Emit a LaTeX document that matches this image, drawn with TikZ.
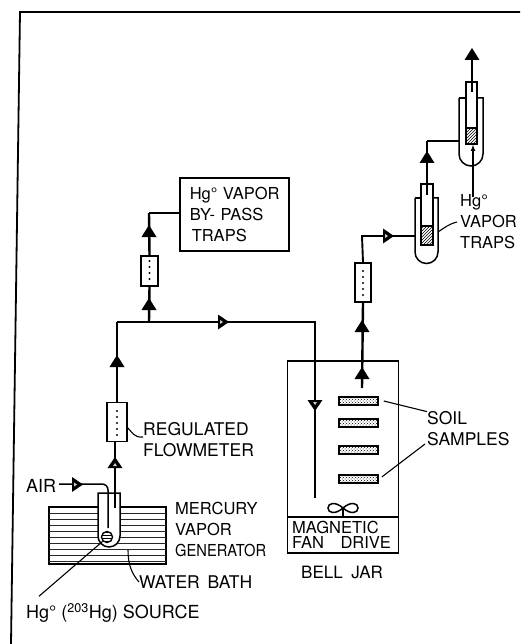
\documentclass[tikz,border=0pt]{standalone}
\usepackage{fontspec}
\setmainfont{TeX Gyre Heros}
\usetikzlibrary{patterns}
\tikzset{
  tube/.style={line width=2.4pt},
  thinwall/.style={line width=1.5pt},
  leader/.style={line width=1.1pt},
  lbl/.style={anchor=west, inner sep=0pt, align=left,
              font=\fontsize{#1}{21}\selectfont},
  lbl/.default=16.5,
  meter/.style={draw, line width=1.5pt, fill=white, inner sep=0pt,
                minimum width=#1},
  dish/.style={rectangle, draw, line width=1.5pt, pattern=crosshatch dots, inner sep=0pt,
               minimum width=39pt, minimum height=8pt},
  plug/.style={draw, line width=1.5pt, pattern=north east lines,
               inner sep=0pt, minimum width=12pt},
  pics/solidtip/.style={code={\fill (-7.5,0) -- (7.5,0) -- (0,-12) -- cycle;}},
  pics/opentip/.style={code={\fill (-7.5,0) -- (7.5,0) -- (0,-11) -- cycle;
                             \fill[white!60!gray] (-2,-2) -- (2,-2) -- (0,-5) -- cycle;}},
}
\begin{document}
\begin{tikzpicture}[x=1pt,y=-1pt]
\useasboundingbox (0,0) rectangle (520,644);
\draw[line width=1.8pt] (520,12) -- (20,12) -- (11,644);

% water bath
\draw[line width=1.4pt] (49,507) rectangle (166,564);
\foreach \y in {513,519,...,561}
  \draw[line width=.9pt, black!85] (49,\y) -- (166,\y);

% generator tube
\draw[thinwall, fill=white] (98,493) -- (98,536) arc (180:0:11) -- (120,493) -- cycle;
\node[circle, draw, line width=1.4pt, pattern=horizontal lines, minimum size=11pt, inner sep=0pt] (source) at (107,537) {};
\coordinate (airin) at (59,484);
\coordinate (airdip) at (108,528);
\coordinate (outlet) at (115,508);

% flowmeters
\node[meter=20pt, minimum height=39pt] (flowa) at (117,422) {};
\node[meter=17pt, minimum height=30pt] (flowb) at (149.5,271) {};
\node[meter=16pt, minimum height=39pt] (flowc) at (363,282.5) {};
\foreach \y in {411,417,...,435} \fill (117,\y) circle (1.2pt);
\foreach \y in {261,267,...,282} \fill (149.5,\y) circle (1.2pt);
\foreach \y in {271,277,...,295} \fill (363,\y) circle (1.2pt);

% boxes and labels
\node[draw, line width=1.5pt, lbl, minimum width=109pt, minimum height=73pt,
      text width=109pt, inner sep=0pt, align=left] (bypass) at (179,214.5)
  {\hspace*{10pt}Hg° VAPOR\\\hspace*{10pt}BY- PASS\\\hspace*{12pt}TRAPS};
\node[lbl=18] (airtxt) at (26,486) {AIR};
\node[lbl=17.5] (regtxt) at (143,440) {REGULATED\\FLOWMETER};
\node[lbl] (mertxt) at (175,529) {MERCURY\\VAPOR\\\scalebox{.89}[1]{GENERATOR}};
\node[lbl=17.5] (bathtxt) at (139,582) {WATER\, BATH};
\node[lbl=18] (srctxt) at (26,613) {Hg° (\textsuperscript{203}Hg) SOURCE};
\node[lbl=17.5] (soiltxt) at (427,429) {SOIL\\SAMPLES};
\node[lbl] (traptxt) at (460,222) {Hg°\\VAPOR\\TRAPS};
\node[lbl=17] (jartxt) at (301,572) {BELL\enspace JAR};

% bell jar
\node[draw, line width=1.5pt, minimum width=111pt, minimum height=192pt, inner sep=0pt] (jar) at (343,457) {};
\draw[thinwall] (jar.west |- 0,517) -- (jar.east |- 0,517);
\node[lbl, font=\fontsize{16.5}{15.5}\selectfont] (drivetxt) at (292,535) {MAGNETIC\\FAN\quad DRIVE};
\draw[line width=1.2pt] (343,517) -- (343,508);
\draw[line width=1.5pt] (343,508) .. controls (335,501) and (328,503) .. (328,508) .. controls (328,513) and (335,515) .. (343,508)
  .. controls (351,501) and (358,503) .. (358,508) .. controls (358,513) and (351,515) .. (343,508);

% samples
\node[dish] (soila) at (358.5,401) {};
\node[dish] (soilb) at (358.5,423) {};
\node[dish] (soilc) at (358.5,450) {};
\node[dish] (soild) at (358.5,479) {};

% traps
\draw[thinwall] (415,198) -- (415,252) arc (180:0:11.5) -- (438,198) -- (433,198);
\draw[thinwall] (415,198) -- (421,198);
\draw[thinwall] (421,245) rectangle (433,184);
\node[plug, minimum height=19pt] (plugone) at (427,235.5) {};
\draw[thinwall] (459,98) -- (459,154) arc (180:0:12) -- (483,98) -- (477,98);
\draw[thinwall] (459,98) -- (466,98);
\draw[thinwall] (466,144) rectangle (477,82);
\node[plug, minimum width=11pt, minimum height=16pt] (plugtwo) at (471.5,136) {};

% flow lines
\coordinate (split) at (117,322);
\coordinate (turnb) at (149,213);
\coordinate (branch) at (149,322);
\coordinate (turnd) at (315,322);
\coordinate (dipend) at (315,498);
\coordinate (jarup) at (362,388);
\coordinate (turnc) at (362,236);
\coordinate (trapin) at (415,236);
\coordinate (tubeone) at (427,195);
\coordinate (turne) at (427,141);
\coordinate (traptwo) at (459,141);
\coordinate (tubetwo) at (472,92);
\coordinate (exit) at (472,50);

\draw[thinwall, rounded corners=6pt] (airin) -| (airdip);
\draw[tube] (outlet) -- (115,442) (flowa.north) -- (split);
\draw[line width=1.9pt] (split) -- (turnd) -- (dipend);
\draw[tube] (branch) -- (flowb.south);
\draw[tube] (flowb.north) -- (turnb);
\draw[line width=1.9pt] (turnb) -- (bypass.west |- turnb);
\draw[tube] (jarup) -- (flowc.south);
\draw[line width=1.9pt] (flowc.north) -- (turnc) -- (trapin);
\draw[tube] (tubeone) -- (turne);
\draw[line width=1.9pt] (turne) -- (traptwo);
\draw[tube] (tubetwo) -- (exit);

% tips
\foreach \x/\y in {117/367, 149/310, 149/237, 362/379, 362/332, 427/163, 472/60}
  \pic at (\x,\y) {solidtip};
\pic at (115,468) {opentip};
\pic[rotate=-90] at (72,484.5) {opentip};
\pic[rotate=-90] at (218,322) {opentip};
\pic[rotate=180] at (315,400) {opentip};
\pic[rotate=-90] at (383,236) {opentip};

% leaders
\draw[leader] (127,427) .. controls (132,432) and (134,438) .. (regtxt.west |- 0,437);
\draw[leader] (128,550) .. controls (128,565) and (132,574) .. (bathtxt.west);
\draw[leader] (srctxt.north west) ++(13,-7) -- (source.south west);
\draw[leader] (soila.east) ++(5,0) -- (soiltxt.north west) ++(-2,7);
\draw[leader] (soild.east) ++(3,-2) -- (425,444);
\draw[leader] (457,222) .. controls (449,224) and (444,228) .. (438,232);
\draw[leader, -{latex}] (473,197) -- (plugtwo.south -| 473,0);
\end{tikzpicture}
\end{document}
